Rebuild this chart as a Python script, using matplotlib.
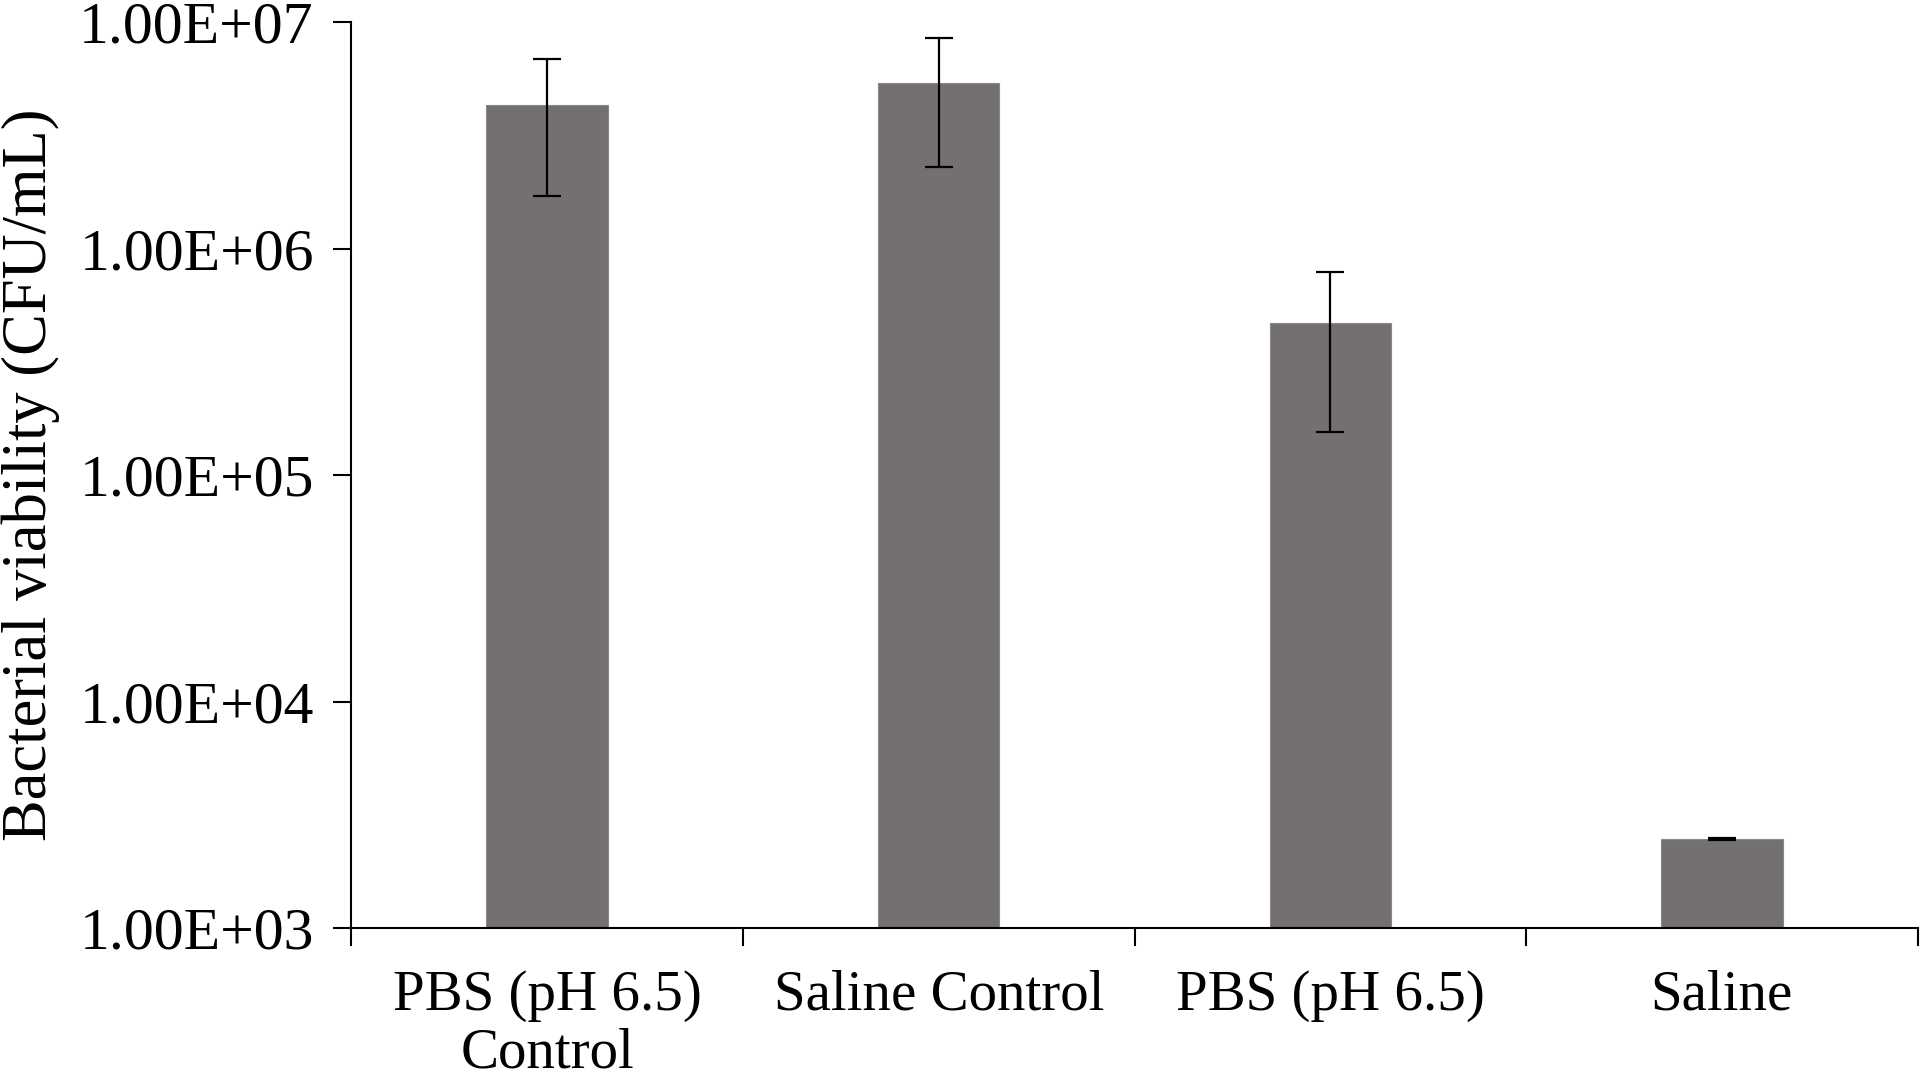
import numpy as np
import matplotlib
matplotlib.use('Agg')
import matplotlib.pyplot as plt
from matplotlib.ticker import FixedLocator, NullFormatter

categories = ['PBS (pH 6.5)\nControl', 'Saline Control', 'PBS (pH 6.5)', 'Saline']
viability = [4.3e6, 5.4e6, 4.7e5, 2.47e3]
errors = [2.6e6, 3.1e6, 3.15e5, 30]
yticks = [1e3, 1e4, 1e5, 1e6, 1e7]
ytick_labels = ['1.00E+03', '1.00E+04', '1.00E+05', '1.00E+06', '1.00E+07']

plt.rcParams['font.family'] = ['Liberation Serif', 'DejaVu Serif']

fig = plt.figure(figsize=(19.2, 10.81), dpi=100)
ax = fig.add_axes([0.183, 0.1415, 0.8158, 0.838])

x = np.arange(len(categories))
ax.bar(x, viability, width=0.31, color='#747070', edgecolor='#8a8787', linewidth=0.8,
       yerr=errors, capsize=10, error_kw=dict(ecolor='black', elinewidth=1.6, capthick=1.6))

ax.set_yscale('log')
ax.set_ylim(1e3, 1e7)
ax.set_xlim(-0.5, len(categories) - 0.5)

ax.yaxis.set_major_locator(FixedLocator(yticks))
ax.set_yticklabels(ytick_labels)
ax.yaxis.set_minor_locator(FixedLocator([]))
ax.tick_params(axis='y', which='major', length=13, width=1.5, labelsize=43, pad=14, direction='out')

ax.set_xticks(x)
ax.set_xticklabels(categories, fontsize=41, linespacing=1.15)
ax.set_xticks(np.arange(len(categories) + 1) - 0.5, minor=True)
ax.xaxis.set_minor_formatter(NullFormatter())
ax.tick_params(axis='x', which='major', length=0, pad=30)
ax.tick_params(axis='x', which='minor', length=13, width=1.5, direction='out')

for s in ['top', 'right']:
    ax.spines[s].set_visible(False)
for s in ['left', 'bottom']:
    ax.spines[s].set_linewidth(1.5)

ax.set_ylabel('Bacterial viability (CFU/mL)', fontsize=45)
ax.yaxis.set_label_coords(-0.186, 0.5)

fig.savefig('out.png', dpi=100)
